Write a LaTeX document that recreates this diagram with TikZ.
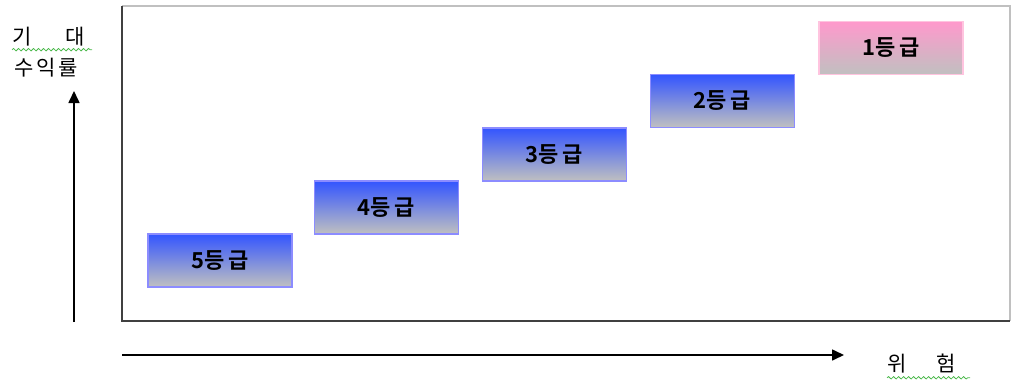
\documentclass[tikz,border=0pt]{standalone}
\usepackage{fontspec}
\newfontfamily\kr{Noto Sans CJK KR}
\newfontfamily\krb{Noto Sans CJK KR Bold}
\usetikzlibrary{arrows.meta,decorations.pathmorphing}
\definecolor{bluetop}{HTML}{3355FF}
\definecolor{greybot}{HTML}{C0C0C0}
\definecolor{blueedge}{HTML}{8C8CFF}
\definecolor{pinktop}{HTML}{FF99CC}
\definecolor{pinkedge}{HTML}{FFC4DF}
\definecolor{axisdark}{HTML}{404040}
\definecolor{framelight}{HTML}{C0C0C0}
\definecolor{squig}{HTML}{4CB84C}
\tikzset{
  grade/.style={draw=blueedge, line width=1.2pt, top color=bluetop, bottom color=greybot,
    minimum width=144pt, minimum height=53pt, inner sep=0pt,
    font=\krb\fontsize{22pt}{22pt}\selectfont},
  gradetop/.style={grade, draw=pinkedge, top color=pinktop},
  lbl/.style={inner sep=0pt, font=\kr\fontsize{21pt}{21pt}\selectfont},
  arr/.style={line width=1.6pt, -{Triangle[length=12pt,width=11pt]}},
  squiggle/.style={squig, line width=0.8pt, decorate, decoration={snake, amplitude=1.2pt, segment length=5pt}}
}
\begin{document}
\begin{tikzpicture}[x=1pt,y=-1pt]
\useasboundingbox (0,0) rectangle (1012,380);
% frame
\draw[framelight, line width=2pt] (122,6) -- (1010,6) -- (1010,321);
\draw[axisdark, line width=2pt] (122,6) -- (122,321) -- (1010,321);
% boxes
\node[grade] (g5) at (220,260.5) {5등\,급};
\node[grade] (g4) at (386.5,207.5) {4등\,급};
\node[grade] (g3) at (554.5,154.5) {3등\,급};
\node[grade] (g2) at (722.5,101) {2등\,급};
\node[gradetop] (g1) at (891,48) {1등\,급};
% axes arrows
\coordinate (ya) at (74,322);
\coordinate (yb) at (74,91);
\draw[arr] (ya) -- (yb);
\coordinate (xa) at (122,355);
\coordinate (xb) at (844,355);
\draw[arr] (xa) -- (xb);
% labels
\node[lbl, anchor=west] (gd) at (12,37) {기\hspace{34pt}대};
\node[lbl, anchor=west] (sy) at (14,68) {수\hspace{3pt}익\hspace{3pt}률};
\node[lbl, anchor=west] (wh) at (887,364) {위\hspace{30pt}험};
\draw[squiggle] (gd.south west) ++(0,3) -- ++(80,0);
\draw[squiggle] (wh.south west) ++(0,4) -- ++(83,0);
\end{tikzpicture}
\end{document}
